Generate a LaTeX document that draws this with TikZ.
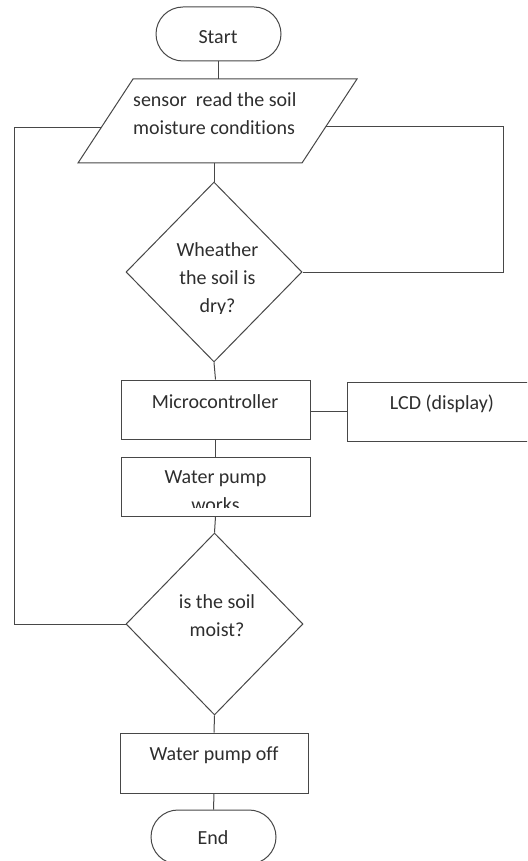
\documentclass[tikz,border=0pt]{standalone}
\usepackage{fontspec}
\setmainfont[Ligatures=NoCommon]{Carlito}
\usetikzlibrary{shapes.geometric}
\begin{document}
\begin{tikzpicture}[x=1pt,y=-1pt,
 ln/.style={draw=black!72, line width=1pt},
 term/.style={ln, rectangle, rounded corners=27pt, minimum width=125pt, minimum height=54pt, inner sep=0pt},
 proc/.style={ln, rectangle, inner sep=0pt},
 dec/.style={ln, diamond, inner sep=0pt},
 txt/.style={font=\fontsize{20}{28}\selectfont, text=black!82, align=center, inner sep=0pt, anchor=base}]
\useasboundingbox (0,0) rectangle (527,861);
\clip (0,0) rectangle (527,861);
\fill[white] (0,0) rectangle (527,861);

% shapes
\node[term] (start) at (218.5,34) {};
\draw[ln] (133,79) coordinate (pTL) -- (357,79) -- (302,163) -- (78,163) -- cycle;
\coordinate (pTop) at (216.5,79);
\coordinate (pBot) at (214,163);
\coordinate (pL) at (100.5,128);
\coordinate (pR) at (326,127);
\node[dec, minimum width=176pt, minimum height=180pt] (d1) at (214,272) {};
\node[proc, minimum width=189pt, minimum height=59pt] (micro) at (215.5,409.5) {};
\node[proc, minimum width=190pt, minimum height=59pt] (lcd) at (442,411.5) {};
\node[proc, minimum width=189pt, minimum height=59pt] (pump) at (215.5,486.5) {};
\node[dec, minimum width=177pt, minimum height=182pt] (d2) at (214.5,624) {};
\node[proc, minimum width=188pt, minimum height=60pt] (off) at (214,763) {};
\node[term] (end) at (213.5,837) {};

% texts
\node[txt] (tStart) at (218,44) {Start};
\node[txt, align=left, anchor=base west] (tSensor) at (133,135) {sensor\ \ read the soil\\moisture conditions};
\begin{scope}
\clip (120,225) rectangle (310,313);
\node[txt] (tD1) at (217.5,312) {Wheather\\the soil is\\dry?};
\end{scope}
\node[txt] (tMicro) at (215,408) {Microcontroller};
\node[txt] (tLcd) at (442,409) {LCD (display)};
\begin{scope}
\clip (121,458) rectangle (310,507);
\node[txt] (tPump) at (215.5,511) {Water pump\\works};
\end{scope}
\node[txt] (tD2) at (217,636) {is the soil\\moist?};
\node[txt] (tOff) at (214,760) {Water pump off};
\node[txt] (tEnd) at (213,844) {End};

% connectors
\draw[ln] (start.south) -- (start.south |- pTop);
\draw[ln] (d1.north |- pBot) -- (d1.north);
\draw[ln] (d1.east) -| (503,127) coordinate (rR) -- (pR);
\draw[ln] (d2.west) -| (14,128) coordinate (lL) -- (pL);
\draw[ln] (d1.south) -- (micro.north);
\draw[ln] (lcd.west -| micro.east) -- (lcd.west);
\draw[ln] (micro.south) -- (pump.north);
\draw[ln] (pump.south) -- (d2.north);
\draw[ln] (d2.south) -- (off.north);
\draw[ln] (off.south) -- (end.north);
\end{tikzpicture}
\end{document}
